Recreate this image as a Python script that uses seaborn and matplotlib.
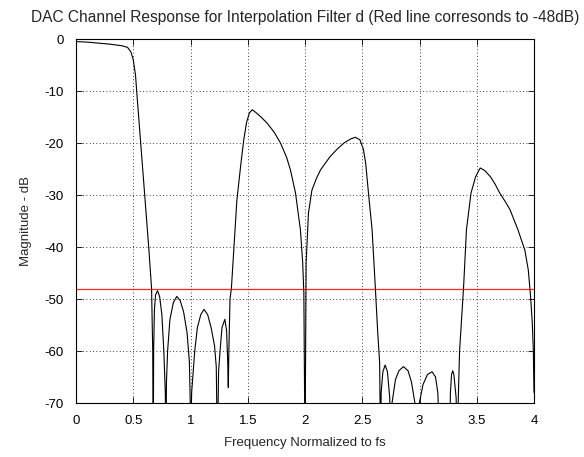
import numpy as np
import pandas as pd
import matplotlib
matplotlib.use("Agg")
import matplotlib.pyplot as plt
import seaborn as sns

# ── Data ──────────────────────────────────────────────────────────────────
# passband + first transition band
freq_pass = [0.0, 0.1, 0.2, 0.3, 0.4, 0.45, 0.48, 0.50, 0.52, 0.53, 0.565,
             0.60, 0.635, 0.66, 0.67, 0.675]
mag_pass = [-0.5, -0.6, -0.8, -1.0, -1.3, -1.6, -2.5, -4.0, -7.0, -10.0, -20.0,
            -30.0, -40.0, -48.0, -60.0, -80.0]

# small stopband lobes between 0.675 and 1.34
freq_stop1 = [0.678, 0.685, 0.695, 0.712, 0.73, 0.75, 0.767, 0.78, 0.785,
              0.79, 0.80, 0.82, 0.85, 0.88, 0.91, 0.94, 0.97, 0.99, 0.998, 1.0,
              1.01, 1.037, 1.06, 1.09, 1.118, 1.15, 1.18, 1.21, 1.225, 1.235,
              1.245, 1.258, 1.275, 1.30, 1.315, 1.325, 1.33]
mag_stop1 = [-60.0, -52.0, -49.2, -48.4, -49.5, -53.0, -60.0, -68.0, -80.0,
             -66.0, -60.0, -54.0, -50.7, -49.5, -50.3, -52.5, -56.5, -62.0, -70.0, -80.0,
             -68.0, -60.0, -55.5, -53.0, -52.0, -53.0, -55.5, -59.0, -63.0, -80.0,
             -64.0, -60.0, -55.5, -53.9, -56.0, -62.0, -67.0]

# first image lobe (around 1.5) and second (around 2.45)
freq_img1 = [1.335, 1.345, 1.357, 1.38, 1.405, 1.44, 1.465, 1.49, 1.515, 1.54,
             1.58, 1.62, 1.67, 1.73, 1.786, 1.84, 1.873, 1.917, 1.96, 1.98, 1.99, 2.0,
             2.01, 2.03, 2.06, 2.10, 2.135, 2.18, 2.22, 2.28, 2.34, 2.40, 2.44,
             2.48, 2.51, 2.53, 2.556, 2.586, 2.614, 2.634, 2.652, 2.66]
mag_img1 = [-60.0, -50.0, -48.0, -40.0, -31.0, -24.0, -19.4, -16.0, -14.2, -13.6,
            -14.3, -15.1, -16.2, -17.9, -20.0, -22.8, -25.2, -29.6, -36.7, -43.1, -48.9, -80.0,
            -43.0, -33.5, -29.1, -26.8, -25.2, -23.8, -22.6, -21.2, -20.0, -19.2, -18.9,
            -19.4, -21.2, -23.9, -30.0, -36.7, -47.7, -56.0, -62.3, -80.0]

# small stopband lobes between 2.66 and 3.33
freq_stop2 = [2.665, 2.68, 2.70, 2.72, 2.74, 2.75, 2.76, 2.79, 2.82, 2.86,
              2.90, 2.93, 2.96, 2.97, 2.99, 3.03, 3.07, 3.11, 3.14, 3.16, 3.18,
              3.26, 3.27, 3.28, 3.29, 3.30, 3.32, 3.33]
mag_stop2 = [-68.0, -64.0, -62.7, -64.0, -69.0, -80.0, -70.0, -65.5, -63.8, -63.0,
             -63.8, -66.0, -70.0, -80.0, -71.0, -66.5, -64.5, -64.0, -65.0, -68.0, -80.0,
             -80.0, -68.0, -64.5, -63.8, -64.5, -69.0, -80.0]

# last image lobe (around 3.5)
freq_img2 = [3.34, 3.35, 3.385, 3.41, 3.45, 3.49, 3.53, 3.57, 3.62, 3.66, 3.70, 3.75,
             3.79, 3.86, 3.92, 3.95, 3.97, 3.985, 3.994, 4.0]
mag_img2 = [-68.0, -60.0, -47.7, -36.7, -29.6, -26.5, -24.8, -25.3, -26.5, -27.9, -29.6,
            -31.3, -32.8, -36.7, -40.6, -44.4, -49.5, -54.6, -59.7, -68.0]

ref_level = -48
x_ticks = [0, 0.5, 1, 1.5, 2, 2.5, 3, 3.5, 4]
x_ticklabels = ['0', '0.5', '1', '1.5', '2', '2.5', '3', '3.5', '4']
y_ticks = [0, -10, -20, -30, -40, -50, -60, -70]

freq = freq_pass + freq_stop1 + freq_img1 + freq_stop2 + freq_img2
mag = mag_pass + mag_stop1 + mag_img1 + mag_stop2 + mag_img2
df = pd.DataFrame({'freq': freq, 'mag': mag})

# ── Style ─────────────────────────────────────────────────────────────────
sns.set_style('ticks')
plt.rcParams['font.family'] = ['Liberation Sans', 'DejaVu Sans']
plt.rcParams['font.size'] = 9.5
plt.rcParams['axes.unicode_minus'] = False

fig = plt.figure(figsize=(5.84, 4.57), dpi=100)
ax = fig.add_axes([76 / 584, 1 - 403 / 457, (534 - 76) / 584, (403 - 39) / 457])

sns.lineplot(data=df, x='freq', y='mag', sort=False, estimator=None,
             color='black', linewidth=0.8, ax=ax)
ax.axhline(ref_level, color='#ff0000', linewidth=0.9, alpha=0.85)

ax.set_xlim(0, 4)
ax.set_ylim(-70, 0)
ax.set_xticks(x_ticks)
ax.set_xticklabels(x_ticklabels)
ax.set_yticks(y_ticks)
ax.grid(True, color='black', linestyle=(0, (1, 3)), linewidth=0.6)
ax.tick_params(direction='in', length=4, width=0.6, pad=9, labelsize=9.5,
               top=True, right=True, colors='black')
for s in ax.spines.values():
    s.set_color('black')
    s.set_linewidth(0.8)

ax.set_title('DAC Channel Response for Interpolation Filter d (Red line corresonds to -48dB)',
             fontsize=11.2, pad=12)
ax.set_xlabel('Frequency Normalized to fs', fontsize=9.5, labelpad=7)
ax.set_ylabel('Magnitude - dB', fontsize=9.5, labelpad=9)

fig.savefig('out.png', dpi=100)
